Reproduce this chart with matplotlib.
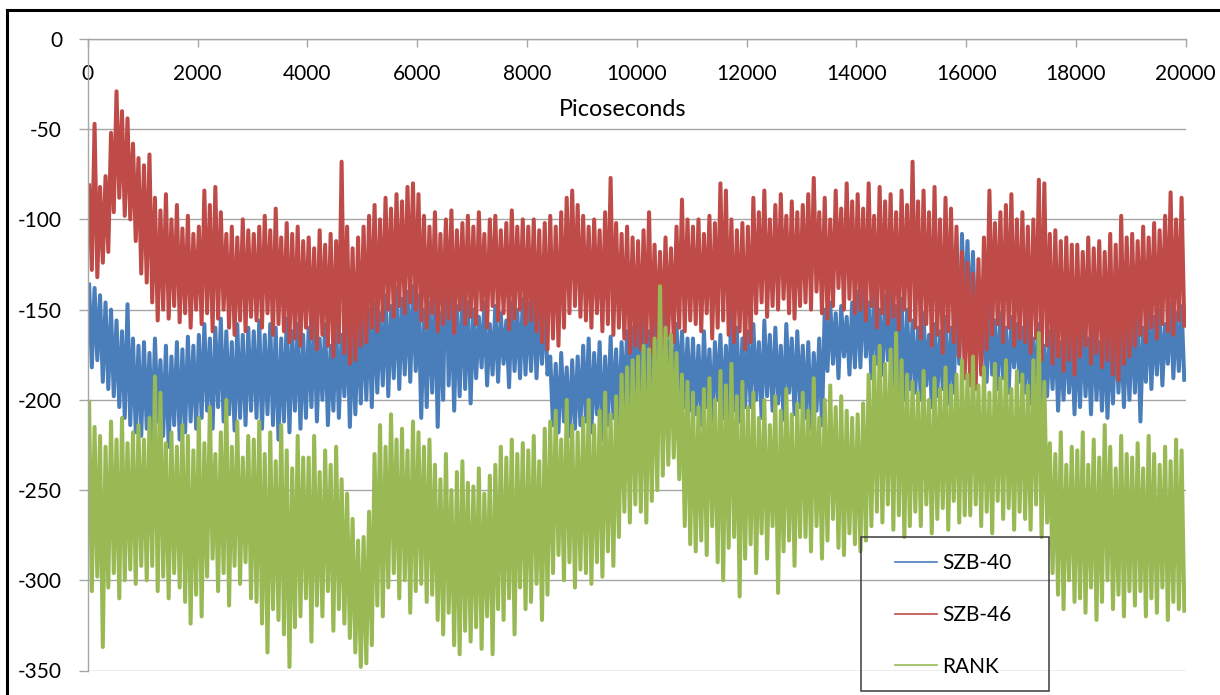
import numpy as np
import matplotlib
matplotlib.use("Agg")
import matplotlib.pyplot as plt
from matplotlib.lines import Line2D
from matplotlib.patches import Rectangle

plt.rcParams["font.family"] = ["Lato", "DejaVu Sans"]

# Trajectory energies sampled in 100 ps windows: for every window the
# upper and lower excursion of the trace (one row = 1 ns).
BIN_PS = 100
time_bins = np.arange(0, 20000, BIN_PS)

szb40_hi = [
    -135, -138, -142, -146, -150, -156, -162, -147, -166, -170,
    -168, -174, -166, -178, -170, -176, -168, -172, -165, -170,
    -164, -158, -166, -160, -155, -162, -168, -158, -164, -160,
    -162, -156, -164, -158, -160, -166, -155, -162, -158, -164,
    -160, -154, -166, -158, -170, -156, -164, -152, -162, -158,
    -154, -150, -146, -152, -142, -148, -138, -144, -140, -137,
    -142, -150, -146, -138, -152, -105, -144, -148, -140, -146,
    -150, -154, -146, -158, -148, -152, -156, -146, -150, -144,
    -146, -142, -150, -144, -176, -180, -174, -182, -178, -176,
    -170, -166, -174, -168, -176, -165, -172, -168, -162, -160,
    -158, -154, -162, -156, -160, -152, -164, -158, -162, -166,
    -166, -170, -162, -172, -168, -164, -170, -143, -160, -166,
    -162, -158, -168, -156, -164, -160, -170, -158, -166, -162,
    -170, -168, -174, -166, -150, -146, -152, -148, -154, -146,
    -140, -134, -146, -138, -150, -142, -136, -148, -144, -150,
    -156, -160, -152, -164, -158, -162, -154, -160, -140, -108,
    -112, -118, -136, -140, -146, -156, -152, -160, -154, -158,
    -160, -156, -166, -158, -170, -162, -156, -168, -160, -164,
    -162, -158, -166, -156, -168, -160, -164, -156, -162, -158,
    -156, -152, -160, -148, -154, -150, -158, -146, -152, -148,
]
szb40_lo = [
    -182, -178, -190, -194, -198, -204, -210, -214, -218, -220,
    -216, -224, -212, -220, -226, -214, -222, -218, -212, -216,
    -210, -206, -216, -204, -212, -208, -217, -210, -214, -206,
    -210, -216, -208, -214, -222, -212, -218, -206, -216, -210,
    -204, -212, -200, -214, -206, -210, -198, -215, -208, -202,
    -200, -204, -196, -192, -198, -188, -194, -186, -190, -184,
    -210, -204, -196, -215, -200, -192, -206, -198, -194, -202,
    -188, -182, -192, -186, -190, -180, -193, -184, -188, -186,
    -184, -188, -180, -186, -214, -218, -212, -220, -216, -214,
    -212, -218, -208, -222, -214, -210, -216, -206, -212, -208,
    -198, -194, -204, -196, -200, -192, -202, -198, -204, -206,
    -208, -214, -204, -212, -200, -210, -215, -206, -212, -204,
    -204, -200, -210, -198, -206, -202, -211, -196, -208, -204,
    -210, -216, -206, -214, -184, -180, -188, -176, -186, -182,
    -182, -176, -188, -180, -186, -178, -192, -196, -200, -194,
    -196, -200, -192, -204, -198, -194, -202, -196, -180, -156,
    -160, -170, -184, -190, -186, -194, -188, -196, -182, -190,
    -196, -202, -192, -204, -198, -194, -206, -200, -196, -208,
    -204, -198, -208, -200, -206, -210, -202, -196, -204, -200,
    -196, -212, -190, -194, -186, -192, -180, -188, -184, -190,
]

szb46_hi = [
    -80, -47, -82, -76, -52, -29, -40, -44, -58, -66,
    -70, -64, -88, -95, -86, -100, -92, -105, -98, -108,
    -104, -84, -92, -82, -96, -108, -104, -110, -100, -106,
    -108, -104, -98, -106, -94, -110, -102, -108, -104, -112,
    -110, -116, -106, -114, -108, -112, -68, -104, -116, -110,
    -104, -98, -92, -100, -88, -94, -86, -90, -82, -80,
    -86, -98, -104, -96, -108, -100, -95, -106, -102, -98,
    -104, -96, -108, -100, -98, -106, -102, -95, -104, -100,
    -104, -100, -106, -102, -98, -104, -96, -88, -84, -92,
    -98, -104, -100, -106, -96, -77, -102, -108, -104, -110,
    -112, -106, -96, -114, -118, -110, -116, -104, -89, -100,
    -104, -100, -108, -98, -102, -80, -84, -100, -106, -102,
    -104, -88, -96, -84, -100, -92, -86, -98, -90, -96,
    -92, -86, -77, -96, -88, -100, -84, -94, -80, -90,
    -86, -94, -80, -98, -82, -90, -86, -96, -84, -92,
    -68, -90, -84, -96, -82, -100, -88, -94, -104, -118,
    -124, -130, -122, -110, -84, -102, -96, -92, -86, -100,
    -96, -104, -100, -78, -80, -108, -106, -112, -110, -114,
    -114, -118, -110, -116, -112, -118, -108, -114, -98, -110,
    -108, -112, -104, -110, -102, -106, -98, -85, -100, -88,
]
szb46_lo = [
    -128, -132, -124, -118, -96, -88, -98, -100, -112, -130,
    -135, -146, -156, -150, -155, -148, -157, -152, -160, -150,
    -158, -152, -162, -155, -150, -160, -164, -156, -162, -154,
    -156, -160, -152, -164, -158, -162, -168, -166, -170, -160,
    -166, -172, -164, -170, -176, -168, -174, -180, -178, -170,
    -168, -160, -162, -156, -150, -154, -148, -152, -146, -150,
    -156, -160, -152, -162, -158, -155, -163, -150, -158, -154,
    -158, -150, -160, -148, -156, -152, -161, -155, -150, -158,
    -156, -162, -168, -172, -166, -170, -160, -152, -148, -154,
    -156, -160, -152, -162, -158, -164, -160, -166, -174, -170,
    -172, -168, -174, -166, -170, -164, -168, -160, -162, -156,
    -158, -162, -152, -166, -160, -156, -164, -168, -162, -172,
    -168, -152, -146, -154, -148, -150, -144, -152, -155, -148,
    -146, -150, -140, -152, -155, -148, -138, -150, -144, -152,
    -150, -156, -148, -160, -152, -158, -154, -161, -150, -156,
    -160, -166, -158, -170, -164, -174, -162, -168, -176, -188,
    -192, -194, -186, -172, -164, -158, -168, -160, -170, -166,
    -168, -174, -166, -178, -170, -180, -176, -184, -178, -186,
    -176, -170, -180, -174, -182, -178, -186, -189, -180, -176,
    -170, -164, -168, -160, -166, -158, -162, -164, -156, -160,
]

rank_hi = [
    -200, -215, -220, -226, -212, -222, -210, -224, -218, -214,
    -222, -210, -187, -196, -224, -218, -226, -214, -220, -228,
    -210, -224, -204, -230, -218, -200, -226, -212, -232, -220,
    -222, -212, -230, -218, -234, -214, -228, -238, -220, -232,
    -232, -220, -240, -228, -236, -226, -244, -252, -266, -278,
    -276, -262, -230, -214, -226, -208, -222, -216, -228, -212,
    -218, -226, -222, -236, -244, -230, -250, -240, -234, -246,
    -248, -238, -252, -242, -236, -226, -232, -222, -230, -224,
    -228, -220, -234, -216, -212, -206, -222, -200, -214, -218,
    -210, -200, -214, -206, -196, -208, -198, -186, -182, -178,
    -176, -170, -172, -166, -137, -160, -164, -174, -186, -190,
    -196, -204, -194, -188, -200, -184, -192, -180, -198, -190,
    -204, -196, -210, -200, -214, -198, -206, -194, -208, -202,
    -196, -206, -188, -210, -200, -192, -204, -198, -206, -210,
    -208, -202, -186, -176, -170, -180, -172, -163, -178, -186,
    -190, -196, -184, -200, -188, -194, -182, -192, -186, -178,
    -186, -176, -192, -182, -196, -180, -188, -178, -194, -184,
    -186, -192, -178, -163, -190, -224, -230, -218, -236, -226,
    -228, -218, -236, -222, -232, -214, -226, -238, -220, -230,
    -232, -224, -238, -220, -230, -236, -226, -234, -222, -228,
]
rank_lo = [
    -306, -298, -337, -304, -296, -310, -300, -294, -302, -292,
    -300, -292, -306, -298, -310, -296, -304, -312, -324, -308,
    -320, -298, -288, -306, -296, -314, -292, -302, -290, -310,
    -312, -324, -340, -316, -322, -330, -348, -326, -320, -310,
    -334, -314, -320, -306, -328, -316, -324, -332, -340, -348,
    -346, -336, -314, -320, -304, -296, -310, -300, -318, -306,
    -302, -312, -308, -322, -330, -318, -336, -341, -328, -334,
    -326, -338, -320, -341, -316, -322, -310, -330, -304, -316,
    -312, -302, -322, -308, -296, -286, -300, -290, -304, -294,
    -296, -302, -290, -298, -284, -292, -276, -262, -268, -258,
    -262, -268, -256, -250, -242, -236, -232, -244, -270, -280,
    -284, -278, -286, -270, -290, -300, -282, -276, -309, -288,
    -280, -296, -274, -288, -270, -307, -284, -278, -292, -276,
    -276, -284, -270, -288, -278, -266, -282, -286, -274, -280,
    -284, -278, -270, -262, -268, -258, -272, -264, -276, -270,
    -262, -270, -258, -274, -266, -260, -272, -256, -268, -264,
    -264, -258, -270, -262, -274, -256, -266, -260, -272, -262,
    -266, -272, -258, -276, -268, -296, -308, -316, -300, -312,
    -310, -318, -304, -322, -312, -300, -316, -308, -320, -306,
    -314, -306, -320, -310, -318, -304, -322, -312, -316, -318,
]

series_names = ["SZB-40", "SZB-46", "RANK"]
series_colors = ["#4a7ebb", "#be4b48", "#98b954"]
x_ticks = list(range(0, 20001, 2000))
y_ticks = list(range(-350, 1, 50))
x_title = "Picoseconds"

GRID = "#a6a6a6"
W, H = 1220, 695


def trace(hi, lo):
    """Interleave the upper/lower excursions of each window into one path."""
    t = np.column_stack([time_bins + 25, time_bins + 75]).ravel()
    v = np.column_stack([hi, lo]).ravel()
    return t, v


fig = plt.figure(figsize=(W / 100, H / 100), dpi=100)
ax = fig.add_axes([87.7 / W, 1 - 670.5 / H, (1185.7 - 87.7) / W, (670.5 - 39) / H])

for (hi, lo), color in zip(
    [(szb40_hi, szb40_lo), (szb46_hi, szb46_lo), (rank_hi, rank_lo)], series_colors
):
    t, v = trace(hi, lo)
    ax.plot(t, v, color=color, lw=2.9, solid_joinstyle="round",
            solid_capstyle="butt")

ax.set_xlim(0, 20000)
ax.set_ylim(-350, 0)
ax.set_xticks(x_ticks)
ax.set_yticks(y_ticks)
ax.set_xticklabels([str(v) for v in x_ticks])
ax.set_yticklabels([str(v) for v in y_ticks])

ax.set_axisbelow(True)
ax.yaxis.grid(True, color=GRID, lw=1.0)
ax.xaxis.grid(False)

for side in ("right", "bottom"):
    ax.spines[side].set_visible(False)
for side in ("top", "left"):
    ax.spines[side].set_color(GRID)
    ax.spines[side].set_linewidth(1.0)

ax.xaxis.tick_top()
ax.tick_params(axis="x", which="major", top=True, bottom=False, labeltop=True,
               labelbottom=False, direction="in", length=6, width=1.0,
               color=GRID, pad=-32.5, labelsize=15, labelcolor="black")
ax.tick_params(axis="y", which="major", left=True, right=False, direction="out",
               length=6.5, width=1.0, color=GRID, pad=12, labelsize=15,
               labelcolor="black")

ax.text(0.4875, 0.888, x_title, transform=ax.transAxes, ha="center", va="center",
        fontsize=16.8, color="black")

# Legend entries, framed by a plain unfilled box
handles = [Line2D([], [], color=c, lw=1.2) for c in series_colors]
fig.legend(handles, series_names, loc="upper left",
           bbox_to_anchor=(895 / W, 1 - 553 / H), bbox_transform=fig.transFigure,
           frameon=False, borderpad=0, borderaxespad=0, handlelength=2.0,
           handletextpad=0.25, labelspacing=1.53, fontsize=15)
fig.patches.append(Rectangle((861 / W, 1 - 691 / H), (1049 - 861) / W, (691 - 537) / H,
                             transform=fig.transFigure, fill=False,
                             edgecolor="#3a3a3a", lw=1.1))

# Outer chart border (top and left edges)
fig.add_artist(Line2D([7 / W, 1.0], [1 - 10 / H, 1 - 10 / H], color="black", lw=2.2,
                      transform=fig.transFigure))
fig.add_artist(Line2D([7 / W, 7 / W], [0.0, 1 - 10 / H], color="black", lw=2.2,
                      transform=fig.transFigure))

fig.savefig("out.png", dpi=100)
